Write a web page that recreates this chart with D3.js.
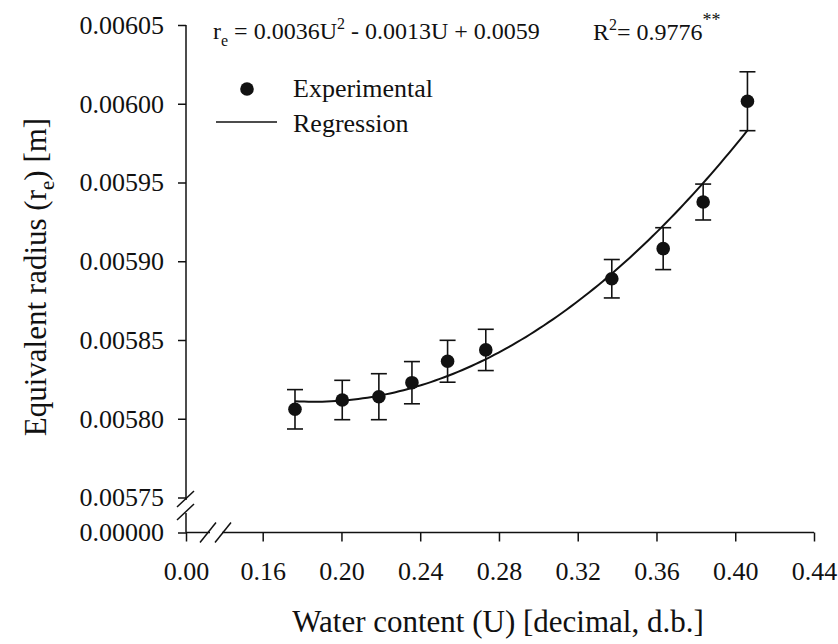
<!DOCTYPE html>
<html>
<head>
<meta charset="utf-8">
<script src="https://cdn.jsdelivr.net/npm/d3@7"></script>
<style>
  html, body { margin: 0; padding: 0; background: #fff; }
  svg text { font-family: "Liberation Serif", "Times New Roman", serif; fill: #111; }
</style>
</head>
<body>
<svg id="chart" width="838" height="644"></svg>
<script>
// Water content (decimal, dry basis) and measured equivalent radius (m)
const waterContent = [0.1764, 0.2004, 0.2190, 0.2358, 0.2539, 0.2733, 0.3373, 0.3634, 0.3837, 0.4062];
const radius       = [0.0058060, 0.0058119, 0.0058140, 0.0058229, 0.0058365, 0.0058437, 0.0058889, 0.0059080, 0.0059376, 0.0060016];
const radiusError  = [0.0000125, 0.0000125, 0.0000146, 0.0000134, 0.0000133, 0.0000131, 0.0000122, 0.0000133, 0.0000114, 0.0000187];

// Quadratic regression r_e = a*U^2 + b*U + c
const fitCoef = [0.003557, -0.001324, 0.005934];
const rSquared = 0.9776;

// Axis ticks (both axes are broken near the origin)
const xTicks = [0, 0.16, 0.20, 0.24, 0.28, 0.32, 0.36, 0.40, 0.44];
const yTicks = [0, 0.00575, 0.00580, 0.00585, 0.00590, 0.00595, 0.00600, 0.00605];

const svg = d3.select("#chart");
const ink = "#111";

const plotLeft = 186, plotRight = 814, plotTop = 25, plotBottom = 532.5;

// Piecewise scales: a short compressed stretch from 0 to the first real tick
const x = d3.scaleLinear().domain([0, 0.16, 0.44]).range([plotLeft, 262.7, plotRight]);
const y = d3.scaleLinear().domain([0, 0.00575, 0.00605]).range([plotBottom, 497.5, plotTop]);

// Axes
const yAxis = d3.axisLeft(y).tickValues(yTicks).tickFormat(d3.format(".5f"))
  .tickSize(8).tickPadding(14);
const xAxis = d3.axisBottom(x).tickValues(xTicks).tickFormat(d3.format(".2f"))
  .tickSize(9).tickPadding(20);

const gy = svg.append("g").attr("transform", `translate(${plotLeft},0)`).call(yAxis);
const gx = svg.append("g").attr("transform", `translate(0,${plotBottom})`).call(xAxis);
[gy, gx].forEach(g => {
  g.select(".domain").remove();
  g.selectAll(".tick line").attr("stroke", ink).attr("stroke-width", 1.5);
  g.selectAll(".tick text").attr("fill", ink).style("font-size", "26px")
    .style("font-family", '"Liberation Serif", "Times New Roman", serif');
});

// Axis lines with break marks
const axisG = svg.append("g").attr("stroke", ink).attr("stroke-width", 1.5).attr("fill", "none");
const yBreak = [499, 512];
const xBreak = [208, 223];
axisG.append("line").attr("x1", plotLeft).attr("x2", plotLeft).attr("y1", y(0.00605)).attr("y2", yBreak[0] + 1);
axisG.append("line").attr("x1", plotLeft).attr("x2", plotLeft).attr("y1", yBreak[1] + 1).attr("y2", plotBottom);
axisG.append("line").attr("x1", plotLeft).attr("x2", xBreak[0] + 2).attr("y1", plotBottom).attr("y2", plotBottom);
axisG.append("line").attr("x1", xBreak[1] - 1).attr("x2", x(0.44)).attr("y1", plotBottom).attr("y2", plotBottom);
yBreak.forEach(b => axisG.append("line")
  .attr("x1", plotLeft - 9).attr("y1", b + 8).attr("x2", plotLeft + 8).attr("y2", b - 8));
xBreak.forEach(b => axisG.append("line")
  .attr("x1", b - 8).attr("y1", plotBottom + 10).attr("x2", b + 8).attr("y2", plotBottom - 10));

// Regression curve over the measured range
const poly = u => fitCoef[0] * u * u + fitCoef[1] * u + fitCoef[2];
const uMin = d3.min(waterContent), uMax = d3.max(waterContent);
const curve = d3.range(0, 101).map(i => uMin + (uMax - uMin) * i / 100);
svg.append("path")
  .datum(curve)
  .attr("fill", "none").attr("stroke", ink).attr("stroke-width", 2)
  .attr("d", d3.line().x(u => x(u)).y(u => y(poly(u))));

// Error bars and points
const pts = waterContent.map((u, i) => ({ u, r: radius[i], e: radiusError[i] }));
const eb = svg.append("g").attr("stroke", ink).attr("stroke-width", 1.6);
pts.forEach(p => {
  eb.append("line").attr("x1", x(p.u)).attr("x2", x(p.u)).attr("y1", y(p.r - p.e)).attr("y2", y(p.r + p.e));
  [p.r - p.e, p.r + p.e].forEach(v =>
    eb.append("line").attr("x1", x(p.u) - 8).attr("x2", x(p.u) + 8).attr("y1", y(v)).attr("y2", y(v)));
});
svg.append("g").selectAll("circle").data(pts).join("circle")
  .attr("cx", d => x(d.u)).attr("cy", d => y(d.r)).attr("r", 6.8).attr("fill", ink);

// Regression equation and coefficient of determination
const fmt = v => Math.abs(v).toFixed(4);
const eq = svg.append("text").attr("x", 213).attr("y", 39).style("font-size", "24px");
eq.append("tspan").text("r");
eq.append("tspan").attr("dy", 7).style("font-size", "16px").text("e");
eq.append("tspan").attr("dy", -7).text(` = ${fmt(fitCoef[0])}U`);
eq.append("tspan").attr("dy", -10).style("font-size", "16px").text("2");
eq.append("tspan").attr("dy", 10).text(` ${fitCoef[1] < 0 ? "-" : "+"} ${fmt(fitCoef[1])}U ${fitCoef[2] < 0 ? "-" : "+"} ${fmt(fitCoef[2])}`);

const r2 = svg.append("text").attr("x", 593).attr("y", 40).style("font-size", "24px");
r2.append("tspan").text("R");
r2.append("tspan").attr("dy", -10).style("font-size", "16px").text("2");
r2.append("tspan").attr("dy", 10).text(`= ${rSquared.toFixed(4)}`);
r2.append("tspan").attr("dy", -14).style("font-size", "18px").text("**");

// Legend
svg.append("circle").attr("cx", 247).attr("cy", 89).attr("r", 6.8).attr("fill", ink);
svg.append("text").attr("x", 293).attr("y", 97).style("font-size", "26px").text("Experimental");
svg.append("line").attr("x1", 216).attr("x2", 277).attr("y1", 122).attr("y2", 122)
  .attr("stroke", ink).attr("stroke-width", 1.6);
svg.append("text").attr("x", 293).attr("y", 132).style("font-size", "26px").text("Regression");

// Axis titles
svg.append("text").attr("x", 498).attr("y", 632).attr("text-anchor", "middle")
  .style("font-size", "31px").text("Water content (U) [decimal, d.b.]");
const yt = svg.append("text").attr("transform", "translate(46,277) rotate(-90)")
  .attr("text-anchor", "middle").style("font-size", "31px");
yt.append("tspan").text("Equivalent radius (r");
yt.append("tspan").attr("dy", 8).style("font-size", "21px").text("e");
yt.append("tspan").attr("dy", -8).text(") [m]");
</script>
</body>
</html>
